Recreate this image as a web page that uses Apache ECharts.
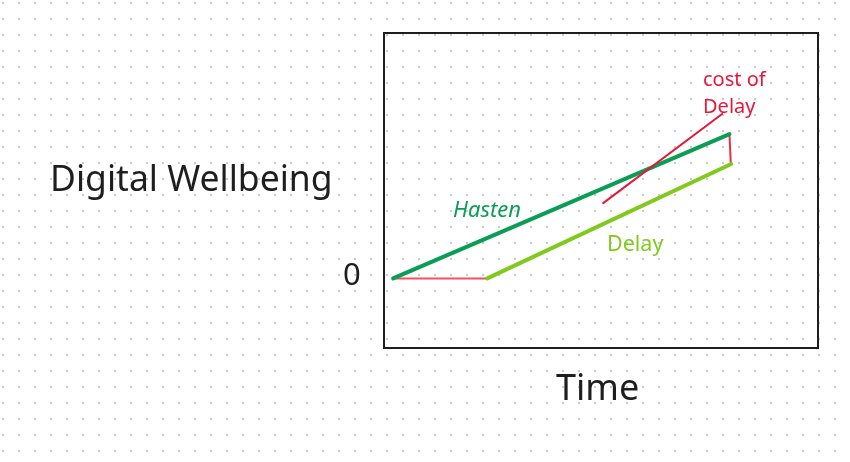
<!DOCTYPE html>
<html><head><meta charset="utf-8">
<script src="https://cdn.jsdelivr.net/npm/echarts@6/dist/echarts.min.js"></script>
<style>html,body{margin:0;padding:0;background:#fff}#c{width:850px;height:462px}</style>
</head><body><div id="c"></div>
<script>
// Data (axis units: time 0..100, wellbeing 0..100)
const hastenTime = [2.1, 79.6];
const hastenWell = [22.1, 67.9];
const delayTime = [23.8, 80.0];
const delayWell = [22.1, 58.4];
const waitTime = [2.1, 23.8];
const waitWell = [22.1, 22.1];
const gapTime = [79.6, 79.9];
const gapWell = [67.9, 58.7];
const costTime = [50.5, 77.9];
const costWell = [46.0, 74.3];
const labels = { y: 'Digital Wellbeing', x: 'Time', zero: '0', hasten: 'Hasten', delay: 'Delay', cost1: 'cost of', cost2: 'Delay' };

const zip = (a, b) => a.map((v, i) => [v, b[i]]);

// dotted background pattern
const pc = document.createElement('canvas');
pc.width = 16; pc.height = 16;
const pctx = pc.getContext('2d');
pctx.fillStyle = '#ffffff'; pctx.fillRect(0, 0, 16, 16);
pctx.fillStyle = '#cacaca'; pctx.fillRect(2, 2, 2, 2);

const font = '"Noto Sans", sans-serif';
const chart = echarts.init(document.getElementById('c'));
function line(data, color, width, z) {
  return { type: 'line', data, showSymbol: false, symbol: 'none', silent: true, z,
    lineStyle: { color, width, cap: 'round' } };
}
chart.setOption({
  animation: false,
  backgroundColor: { image: pc, repeat: 'repeat' },
  grid: { left: 384, top: 33, width: 434, height: 315, show: true, borderColor: '#1e1e1e', borderWidth: 2, backgroundColor: 'transparent' },
  xAxis: { type: 'value', min: 0, max: 100, show: false },
  yAxis: { type: 'value', min: 0, max: 100, show: false },
  series: [
    line(zip(waitTime, waitWell), '#f0505f', 2, 2),
    line(zip(hastenTime, hastenWell), '#0a9e55', 4, 3),
    line(zip(delayTime, delayWell), '#82c91e', 4, 3),
    line(zip(gapTime, gapWell), '#e8304a', 2, 2),
    line(zip(costTime, costWell), '#e8173a', 2, 4)
  ],
  graphic: [
    { type: 'text', x: 50, y: 181, style: { text: labels.y, font: '35.5px ' + font, fill: '#1e1e1e', verticalAlign: 'middle' } },
    { type: 'text', x: 343, y: 276, style: { text: labels.zero, font: '31px ' + font, fill: '#1e1e1e', verticalAlign: 'middle' } },
    { type: 'text', x: 556, y: 390, style: { text: labels.x, font: '36px ' + font, fill: '#1e1e1e', verticalAlign: 'middle' } },
    { type: 'text', x: 453, y: 211, style: { text: labels.hasten, font: 'italic 22px ' + font, fill: '#0a9e55', verticalAlign: 'middle' } },
    { type: 'text', x: 607, y: 245, style: { text: labels.delay, font: '21.5px ' + font, fill: '#82c91e', verticalAlign: 'middle' } },
    { type: 'text', x: 703, y: 80, style: { text: labels.cost1, font: '20px ' + font, fill: '#e8173a', verticalAlign: 'middle' } },
    { type: 'text', x: 703, y: 107, style: { text: labels.cost2, font: '20px ' + font, fill: '#e8173a', verticalAlign: 'middle' } }
  ]
});
</script></body></html>
